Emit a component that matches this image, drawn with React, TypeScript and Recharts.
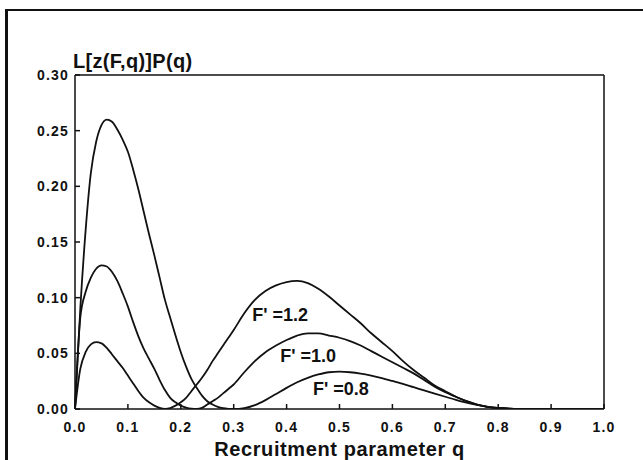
import { LineChart, Line, XAxis, YAxis, ReferenceLine, ReferenceDot } from 'recharts';

// recruitment parameter q
const qs = [
  0, 0.01, 0.02, 0.03, 0.04, 0.05, 0.06, 0.07, 0.08, 0.09, 0.1,
  0.11, 0.12, 0.13, 0.14, 0.15, 0.16, 0.17, 0.18, 0.19, 0.2,
  0.21, 0.22, 0.23, 0.24, 0.25, 0.26, 0.27, 0.28, 0.29, 0.3,
  0.32, 0.34, 0.36, 0.38, 0.4, 0.42, 0.44, 0.46, 0.48, 0.5,
  0.52, 0.54, 0.56, 0.58, 0.6, 0.62, 0.64, 0.66, 0.68, 0.7,
  0.72, 0.74, 0.76, 0.78, 0.8, 0.82, 0.84, 0.86, 0.88, 0.9,
  0.95, 1.0,
];

const f12 = [
  0, 0.036, 0.051, 0.058, 0.06, 0.059, 0.055, 0.049, 0.043, 0.037, 0.03,
  0.023, 0.016, 0.01, 0.006, 0.003, 0.001, 0.0001, 0.0008, 0.003, 0.006,
  0.01, 0.016, 0.022, 0.028, 0.035, 0.043, 0.05, 0.057, 0.064, 0.071,
  0.086, 0.098, 0.106, 0.111, 0.114, 0.115, 0.113, 0.108, 0.101, 0.093,
  0.085, 0.077, 0.068, 0.06, 0.052, 0.043, 0.035, 0.028, 0.021, 0.016,
  0.011, 0.007, 0.004, 0.002, 0.001, 0.0004, 0.0001, 0, 0, 0,
  0, 0,
];

const f10 = [
  0, 0.082, 0.105, 0.118, 0.126, 0.129, 0.128, 0.123, 0.115, 0.104, 0.092,
  0.078, 0.065, 0.054, 0.045, 0.036, 0.026, 0.017, 0.01, 0.006, 0.003,
  0.0013, 0.0003, 0, 0.001, 0.004, 0.007, 0.01, 0.014, 0.018, 0.022,
  0.033, 0.043, 0.051, 0.057, 0.062, 0.066, 0.068, 0.068, 0.066, 0.064,
  0.061, 0.057, 0.052, 0.047, 0.042, 0.037, 0.032, 0.026, 0.02, 0.015,
  0.011, 0.007, 0.004, 0.002, 0.001, 0.0004, 0.0001, 0, 0, 0,
  0, 0,
];

const f08 = [
  0, 0.09, 0.16, 0.212, 0.24, 0.255, 0.26, 0.258, 0.251, 0.242, 0.231,
  0.215, 0.197, 0.177, 0.157, 0.138, 0.118, 0.098, 0.082, 0.066, 0.051,
  0.038, 0.027, 0.019, 0.012, 0.007, 0.004, 0.002, 0.0008, 0.0002, 0,
  0.0008, 0.0035, 0.008, 0.0135, 0.019, 0.024, 0.028, 0.031, 0.033, 0.0335,
  0.033, 0.0318, 0.03, 0.0278, 0.0252, 0.0225, 0.0196, 0.0167, 0.0138, 0.011,
  0.0083, 0.0058, 0.0037, 0.002, 0.0009, 0.0003, 0, 0, 0, 0,
  0, 0,
];

const xTicks = [0, 0.1, 0.2, 0.3, 0.4, 0.5, 0.6, 0.7, 0.8, 0.9, 1.0];
const yTicks = [0, 0.05, 0.1, 0.15, 0.2, 0.25, 0.3];

const curveLabels = [
  { q: 0.335, v: 0.079, text: "F' =1.2" },
  { q: 0.388, v: 0.042, text: "F' =1.0" },
  { q: 0.45, v: 0.0126, text: "F' =0.8" },
];

const data = qs.map((q, i) => ({ q, f12: f12[i], f10: f10[i], f08: f08[i] }));

const font = '"Liberation Sans", Arial, Helvetica, sans-serif';
const ink = '#111';
const tickStyle = { fill: ink, fontSize: 14, fontWeight: 700, fontFamily: font, letterSpacing: 1.2 };

export default function App() {
  return (
    <div style={{ position: 'absolute', left: 0, top: 0, width: 643, height: 460, background: '#fff', overflow: 'hidden' }}>
      <div style={{ position: 'absolute', left: 5, top: 9, width: 660, height: 480, borderLeft: `3px solid ${ink}`, borderTop: `2px solid ${ink}` }} />
      <LineChart width={643} height={460} data={data} margin={{ top: 75, right: 39, left: 35, bottom: 21 }} style={{ position: 'absolute', left: 0, top: 0 }}>
        <XAxis
          dataKey="q"
          type="number"
          domain={[0, 1]}
          ticks={xTicks}
          tickFormatter={(v: number) => v.toFixed(1)}
          tick={tickStyle}
          tickSize={-5}
          tickMargin={18}
          height={30}
          stroke={ink}
          strokeWidth={1.5}
          label={{ value: 'Recruitment parameter q', position: 'insideBottom', offset: -17, fill: ink, fontSize: 20, fontWeight: 700, fontFamily: font, letterSpacing: 0.6 }}
        />
        <YAxis
          type="number"
          domain={[0, 0.3]}
          ticks={yTicks}
          tickFormatter={(v: number) => v.toFixed(2)}
          tick={tickStyle}
          tickSize={-5}
          tickMargin={11}
          width={40}
          stroke={ink}
          strokeWidth={1.5}
          allowDataOverflow
        />
        <ReferenceLine y={0.3} stroke={ink} strokeWidth={1.5} />
        <ReferenceLine x={1} stroke={ink} strokeWidth={1.5} />
        <ReferenceDot
          x={0}
          y={0.3}
          r={0}
          label={(p: any) => (
            <text x={p.viewBox.x - 2} y={p.viewBox.y - 7} fill={ink} fontSize={20} fontWeight={700} fontFamily={font} letterSpacing={0.3}>
              L[z(F,q)]P(q)
            </text>
          )}
        />
        {curveLabels.map((c) => (
          <ReferenceDot
            key={c.text}
            x={c.q}
            y={c.v}
            r={0}
            label={(p: any) => (
              <text x={p.viewBox.x} y={p.viewBox.y} fill={ink} fontSize={18} fontWeight={700} fontFamily={font}>
                {c.text}
              </text>
            )}
          />
        ))}
        <Line type="monotone" dataKey="f12" stroke={ink} strokeWidth={1.8} dot={false} isAnimationActive={false} />
        <Line type="monotone" dataKey="f10" stroke={ink} strokeWidth={1.8} dot={false} isAnimationActive={false} />
        <Line type="monotone" dataKey="f08" stroke={ink} strokeWidth={1.8} dot={false} isAnimationActive={false} />
      </LineChart>
    </div>
  );
}
